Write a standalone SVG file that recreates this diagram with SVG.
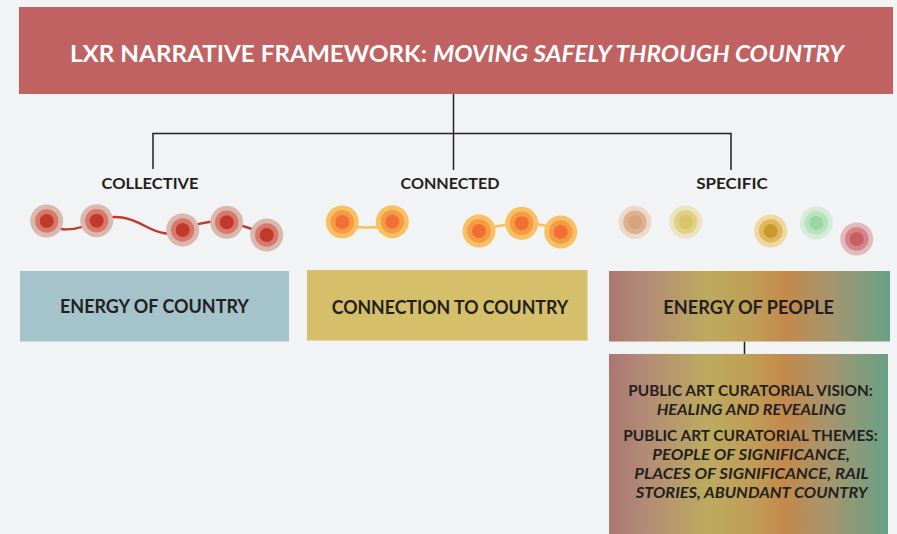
<svg xmlns="http://www.w3.org/2000/svg" width="897" height="534" viewBox="0 0 897 534">
<defs>
<linearGradient id="ppl" x1="0" y1="0" x2="1" y2="0">
<stop offset="0" stop-color="#a97671"/>
<stop offset="0.13" stop-color="#b28b77"/>
<stop offset="0.35" stop-color="#bdaa5f"/>
<stop offset="0.5" stop-color="#bf9f58"/>
<stop offset="0.63" stop-color="#c4894c"/>
<stop offset="0.8" stop-color="#a39670"/>
<stop offset="1" stop-color="#68a086"/>
</linearGradient>
<style>
.lbl{font-family:Lato,"Liberation Sans",sans-serif;font-weight:700;fill:#231f20;text-anchor:middle}
.box{font-family:Lato,"Liberation Sans",sans-serif;font-weight:700;fill:#231f20;font-size:18px}
.body{font-family:Lato,"Liberation Sans",sans-serif;font-weight:700;fill:#231f20;font-size:15px}
.it{font-style:italic}
.conn{stroke:#231f20;stroke-width:1.5;fill:none}
</style>
</defs>
<rect width="897" height="534" fill="#f2f3f5"/>

<g id="title">
<rect x="19" y="7" width="874" height="87" fill="#bf6261"/>
<text x="70" y="61.5" font-family="Lato,'Liberation Sans',sans-serif" font-weight="700" font-size="22" fill="#ffffff" textLength="774" lengthAdjust="spacingAndGlyphs">LXR NARRATIVE FRAMEWORK: <tspan font-style="italic">MOVING SAFELY THROUGH COUNTRY</tspan></text>
</g>

<g id="connectors">
<path class="conn" d="M453.5 94 V170"/>
<path class="conn" d="M153 169 V133.5 H731 V170"/>
<path class="conn" d="M744.5 341.5 V354"/>
</g>

<g id="collective">
<text class="lbl" x="150" y="188.5" font-size="15" textLength="97" lengthAdjust="spacingAndGlyphs">COLLECTIVE</text>
<path d="M46 222 C55 232,75 232,97 221 C115 213,130 218,145 226 C160 234,170 236,183 230 C195 224,210 220,227 222 C240 224,255 230,267 235" fill="none" stroke="#c0392b" stroke-width="2.5"/>
<g fill="#d9b8b0"><circle cx="46.7" cy="221" r="16.5"/><circle cx="96.7" cy="220.7" r="16.5"/><circle cx="182.7" cy="230" r="16.5"/><circle cx="226.7" cy="222.3" r="16.5"/><circle cx="266.7" cy="235" r="16.5"/></g>
<g fill="#d9786a"><circle cx="46.7" cy="221" r="11.7"/><circle cx="96.7" cy="220.7" r="11.7"/><circle cx="182.7" cy="230" r="11.7"/><circle cx="226.7" cy="222.3" r="11.7"/><circle cx="266.7" cy="235" r="11.7"/></g>
<g fill="#c0392b"><circle cx="46.7" cy="221" r="7"/><circle cx="96.7" cy="220.7" r="7"/><circle cx="182.7" cy="230" r="7"/><circle cx="226.7" cy="222.3" r="7"/><circle cx="266.7" cy="235" r="7"/></g>
</g>

<g id="connected">
<text class="lbl" x="450" y="189" font-size="15" textLength="99" lengthAdjust="spacingAndGlyphs">CONNECTED</text>
<g fill="none" stroke="#f6c15e" stroke-width="2.5">
<path d="M342 226 Q367 229 392 226"/>
<path d="M479 231 Q500 224 522 223 Q545 223 561 232"/>
</g>
<g fill="#f7c060"><circle cx="342.3" cy="222" r="16.5"/><circle cx="392.3" cy="221.7" r="16.5"/><circle cx="479" cy="231" r="16.5"/><circle cx="521.7" cy="223.3" r="16.5"/><circle cx="560.7" cy="232" r="16.5"/></g>
<g fill="#f59a45"><circle cx="342.3" cy="222" r="11.8"/><circle cx="392.3" cy="221.7" r="11.8"/><circle cx="479" cy="231" r="11.8"/><circle cx="521.7" cy="223.3" r="11.8"/><circle cx="560.7" cy="232" r="11.8"/></g>
<g fill="#f26f33"><circle cx="342.3" cy="222" r="7"/><circle cx="392.3" cy="221.7" r="7"/><circle cx="479" cy="231" r="7"/><circle cx="521.7" cy="223.3" r="7"/><circle cx="560.7" cy="232" r="7"/></g>
</g>

<g id="specific">
<text class="lbl" x="732" y="189" font-size="15" textLength="71.5" lengthAdjust="spacingAndGlyphs">SPECIFIC</text>
<circle cx="635" cy="222.3" r="16.5" fill="#ebd9cc"/><circle cx="635" cy="222.3" r="11.8" fill="#deb08f"/><circle cx="635" cy="222.3" r="7" fill="#d6a37f"/>
<circle cx="685.7" cy="222" r="16.5" fill="#ece3bf"/><circle cx="685.7" cy="222" r="11.8" fill="#e0cf85"/><circle cx="685.7" cy="222" r="7" fill="#d8c46a"/>
<circle cx="770.7" cy="231" r="16.5" fill="#efd9a0"/><circle cx="770.7" cy="231" r="11.8" fill="#ddb85f"/><circle cx="770.7" cy="231" r="7" fill="#c99a2a"/>
<circle cx="816.3" cy="223" r="16.5" fill="#d6ecd8"/><circle cx="816.3" cy="223" r="11.8" fill="#b7e2bc"/><circle cx="816.3" cy="223" r="7" fill="#9ad6a0"/>
<circle cx="856.7" cy="239" r="16.5" fill="#e2b9bc"/><circle cx="856.7" cy="239" r="11.8" fill="#d58387"/><circle cx="856.7" cy="239" r="7" fill="#c46064"/>
</g>

<g id="energy-of-country">
<rect x="20" y="271" width="269" height="70.5" fill="#a5c3cb"/>
<text class="box" x="60" y="313.3" textLength="189" lengthAdjust="spacingAndGlyphs">ENERGY OF COUNTRY</text>
</g>

<g id="connection-to-country">
<rect x="307" y="270" width="280.5" height="70.5" fill="#d5bf6b"/>
<text class="box" x="331.7" y="314" textLength="236.6" lengthAdjust="spacingAndGlyphs">CONNECTION TO COUNTRY</text>
</g>

<g id="energy-of-people">
<rect x="609" y="271" width="281" height="70.5" fill="url(#ppl)"/>
<text class="box" x="663.3" y="314.3" textLength="170.7" lengthAdjust="spacingAndGlyphs">ENERGY OF PEOPLE</text>
</g>

<g id="curatorial">
<rect x="609" y="354" width="279" height="180" fill="url(#ppl)"/>
<text class="body" x="628.3" y="396" textLength="244.4" lengthAdjust="spacingAndGlyphs">PUBLIC ART CURATORIAL VISION:</text>
<text class="body it" x="656.7" y="415" textLength="189.3" lengthAdjust="spacingAndGlyphs">HEALING AND REVEALING</text>
<text class="body" x="623.3" y="440.7" textLength="254.4" lengthAdjust="spacingAndGlyphs">PUBLIC ART CURATORIAL THEMES:</text>
<text class="body it" x="652.3" y="460" textLength="197.7" lengthAdjust="spacingAndGlyphs">PEOPLE OF SIGNIFICANCE,</text>
<text class="body it" x="634.3" y="479.3" textLength="234.4" lengthAdjust="spacingAndGlyphs">PLACES OF SIGNIFICANCE, RAIL</text>
<text class="body it" x="635.7" y="498.3" textLength="232" lengthAdjust="spacingAndGlyphs">STORIES, ABUNDANT COUNTRY</text>
</g>
</svg>
